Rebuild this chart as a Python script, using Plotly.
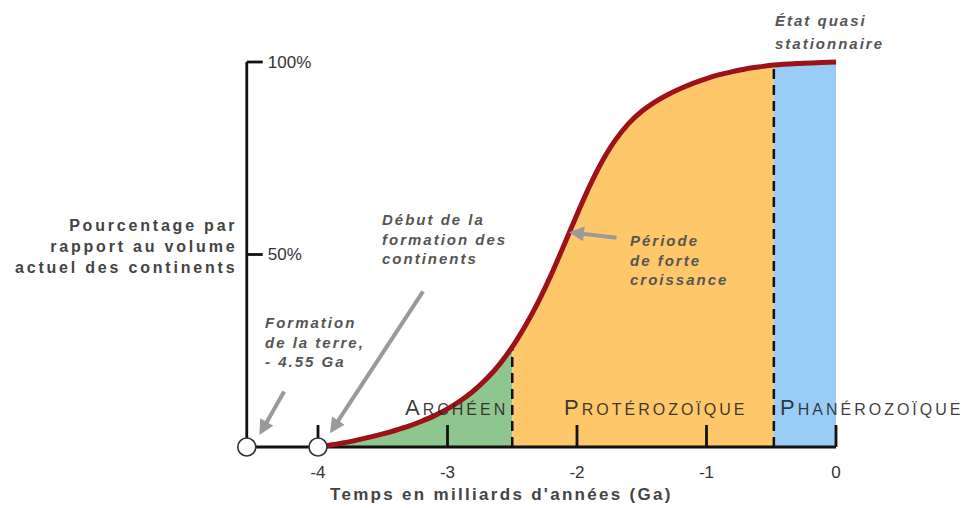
import plotly.graph_objects as go

# Continental crust volume (% of present-day volume) through geological time
time_ga = [-4.0, -3.9, -3.8, -3.7, -3.6, -3.5, -3.4, -3.3, -3.2, -3.1, -3.0, -2.9, -2.8,
           -2.7, -2.6, -2.5, -2.4, -2.3, -2.2, -2.1, -2.0, -1.9, -1.8, -1.7, -1.6, -1.5,
           -1.4, -1.3, -1.2, -1.1, -1.0, -0.9, -0.8, -0.7, -0.6, -0.48, -0.3, 0.0]
volume_pct = [0, 0.5, 1.1, 1.8, 2.55, 3.4, 4.35, 5.4, 6.7, 8.15, 9.9, 12.0, 14.55,
              17.65, 21.4, 26, 31.45, 37.65, 44.7, 52.45, 60.4, 67.95, 74.55, 79.9, 84.05, 87.2,
              89.6, 91.5, 93.1, 94.5, 95.7, 96.7, 97.5, 98.2, 98.7, 99.2, 99.6, 100]

earth_formation = -4.55
crust_onset = -4.0

eon_bounds = [-4.0, -2.5, -0.48, 0.0]
eon_names = ["Archéen", "Protérozoïque", "Phanérozoïque"]
eon_colors = ["#8fc58f", "#fdc76a", "#9accf8"]

x_ticks = [-4, -3, -2, -1, 0]
x_tick_text = ["-4", "-3", "-2", "-1", "0"]
y_ticks = [50, 100]
y_tick_text = ["50%", "100%"]

# pixel scale of the drawing (used for tick lengths and the axis frame)
W, H = 966, 508
ML, MR, MT, MB = 236, 100, 40, 53
PX_PER_GA = 129.5
PX_PER_PCT = 3.85
X_ZERO_PX = 836
Y_ZERO_PX = 447
PLOT_W = W - ML - MR
PLOT_H = H - MT - MB
x_range = [(ML - X_ZERO_PX) / PX_PER_GA, (W - MR - X_ZERO_PX) / PX_PER_GA]
y_range = [(Y_ZERO_PX - (H - MB)) / PX_PER_PCT, (Y_ZERO_PX - MT) / PX_PER_PCT]

GREY = "#444444"
TEXT_FONT = "Liberation Sans, Arial, sans-serif"
SMOOTH = 0.8


def spaced(lines, px):
    return "<br>".join(f"<span style='letter-spacing:{px}px'>{ln}</span>" for ln in lines)


def paper_x(px):
    return (px - ML) / PLOT_W


def paper_y(py):
    return (H - MB - py) / PLOT_H


fig = go.Figure()

# filled eons under the curve
for i, (name, col) in enumerate(zip(eon_names, eon_colors)):
    lo, hi = eon_bounds[i], eon_bounds[i + 1]
    xs = [t for t in time_ga if lo <= t <= hi]
    ys = [v for t, v in zip(time_ga, volume_pct) if lo <= t <= hi]
    fig.add_trace(go.Scatter(
        x=xs, y=ys, mode="lines", fill="tozeroy", fillcolor=col,
        line=dict(width=0, shape="spline", smoothing=SMOOTH, color=col),
        hoverinfo="skip", showlegend=False,
    ))

# axis frame with ticks
tick_h = 22 / PX_PER_PCT
ytick_w = 16 / PX_PER_GA
fx = [earth_formation, 0, None, earth_formation, earth_formation, None]
fy = [0, 0, None, 0, 100, None]
for t in x_ticks:
    fx += [t, t, None]
    fy += [0, tick_h, None]
for v in y_ticks:
    fx += [earth_formation, earth_formation + ytick_w, None]
    fy += [v, v, None]
fig.add_trace(go.Scatter(
    x=fx, y=fy, mode="lines", line=dict(color="#111111", width=2.8),
    hoverinfo="skip", showlegend=False,
))

# dashed eon boundaries
for b in eon_bounds[1:-1]:
    v = volume_pct[time_ga.index(b)]
    fig.add_trace(go.Scatter(
        x=[b, b], y=[0, v], mode="lines",
        line=dict(color="#111111", width=2.5, dash="10px,6px"),
        hoverinfo="skip", showlegend=False,
    ))

# growth curve
fig.add_trace(go.Scatter(
    x=time_ga, y=volume_pct, mode="lines",
    line=dict(color="#9c1219", width=5, shape="spline", smoothing=SMOOTH),
    hoverinfo="skip", showlegend=False,
))

# Earth formation and onset of crust formation
fig.add_trace(go.Scatter(
    x=[earth_formation, crust_onset], y=[0, 0], mode="markers",
    marker=dict(size=18, color="white", line=dict(color="#333333", width=1.6)),
    cliponaxis=False, hoverinfo="skip", showlegend=False,
))

ann = []

# eon labels (small caps)
eon_label_x = [-3.345, -2.116, -0.448]
for name, lx in zip(eon_names, eon_label_x):
    up = name.upper()
    ann.append(dict(
        x=lx, y=10.2, xref="x", yref="y", xanchor="left", yanchor="middle",
        text=f"<span style='letter-spacing:3px'><span style='font-size:22px'>{up[0]}</span>{up[1:]}</span>",
        showarrow=False, font=dict(family=TEXT_FONT, size=16, color="rgba(35,35,35,0.88)"),
    ))

italic = dict(family=TEXT_FONT, size=15, color="#555555", style="italic", weight="bold")

ann.append(dict(x=-3.521, y=54.1, xref="x", yref="y", xanchor="left", yanchor="middle", align="left",
                text=spaced(["Début de la", "formation des", "continents"], 2),
                showarrow=False, font=italic))
ann.append(dict(x=-1.606, y=48.6, xref="x", yref="y", xanchor="left", yanchor="middle", align="left",
                text=spaced(["Période", "de forte", "croissance"], 2),
                showarrow=False, font=italic))
ann.append(dict(x=-4.425, y=27.4, xref="x", yref="y", xanchor="left", yanchor="middle", align="left",
                text=spaced(["Formation", "de la terre,", "- 4.55 Ga"], 2),
                showarrow=False, font=italic))
ann.append(dict(x=paper_x(773), y=paper_y(20), xref="paper", yref="paper", xanchor="left", yanchor="middle",
                align="left", text=spaced(["État quasi"], 2), showarrow=False, font=italic))
ann.append(dict(x=paper_x(773), y=paper_y(43), xref="paper", yref="paper", xanchor="left", yanchor="middle",
                align="left", text=spaced(["stationnaire"], 2), showarrow=False, font=italic))

# pointer arrows
arrow_style = dict(xref="x", yref="y", axref="x", ayref="y", text="", showarrow=True,
                   arrowhead=2, arrowsize=0.75, arrowwidth=4, arrowcolor="#9a9a9a")
ann.append(dict(x=-3.907, y=3.6, ax=-3.181, ay=40.8, **arrow_style))
ann.append(dict(x=-4.453, y=3.1, ax=-4.255, ay=14.8, **arrow_style))
ann.append(dict(x=-2.062, y=55.8, ax=-1.683, ay=54.3, **arrow_style))

# axis titles
ann.append(dict(x=paper_x(239), y=paper_y(246), xref="paper", yref="paper", xanchor="right", yanchor="middle",
                align="right",
                text=spaced(["Pourcentage par", "rapport au volume", "actuel des continents"], 2.8),
                showarrow=False, font=dict(family=TEXT_FONT, size=16, color=GREY, weight="bold")))
ann.append(dict(x=paper_x(501), y=paper_y(494), xref="paper", yref="paper", xanchor="center", yanchor="middle",
                text=spaced(["Temps en milliards d'années (Ga)"], 2.3),
                showarrow=False, font=dict(family=TEXT_FONT, size=17, color=GREY, weight="bold")))

fig.update_layout(
    width=W, height=H,
    margin=dict(l=ML, r=MR, t=MT, b=MB),
    paper_bgcolor="white", plot_bgcolor="white",
    annotations=ann,
    xaxis=dict(
        range=x_range, anchor="free", position=(H - MB - Y_ZERO_PX) / PLOT_H,
        tickvals=x_ticks, ticktext=x_tick_text, ticks="", ticklabelstandoff=13,
        showgrid=False, zeroline=False, showline=False, fixedrange=True,
        tickfont=dict(family="Liberation Sans Narrow, Liberation Sans, Arial, sans-serif", size=17, color="#333333"),
    ),
    yaxis=dict(
        range=y_range, anchor="free", side="right",
        position=(X_ZERO_PX + earth_formation * PX_PER_GA - ML) / PLOT_W,
        tickvals=y_ticks, ticktext=y_tick_text, ticks="", ticklabelstandoff=20,
        showgrid=False, zeroline=False, showline=False, fixedrange=True,
        tickfont=dict(family="Liberation Sans Narrow, Liberation Sans, Arial, sans-serif", size=17, color="#333333"),
    ),
)

fig.write_html("out.html")
